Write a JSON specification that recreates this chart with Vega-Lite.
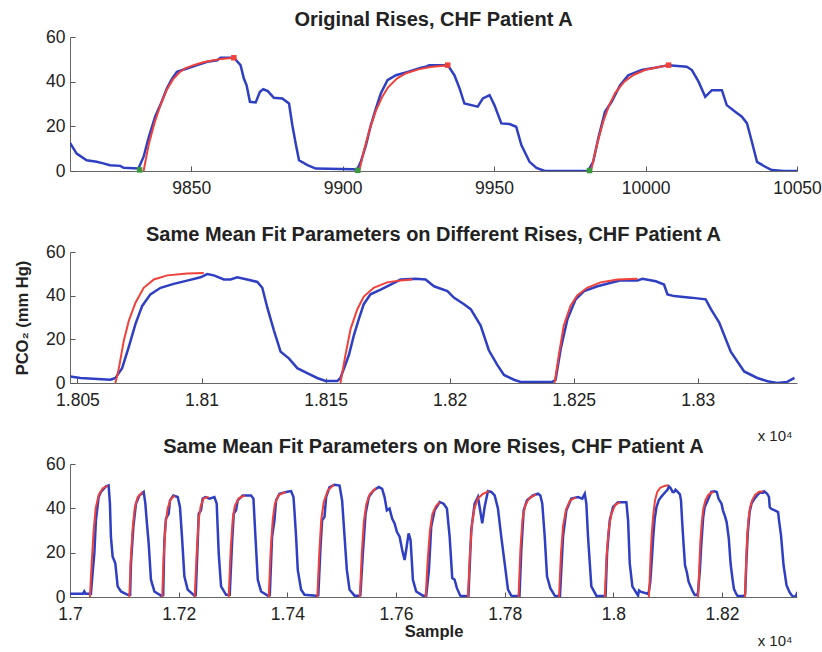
{
  "$schema": "https://vega.github.io/schema/vega-lite/v6.json",
  "background": "white",
  "padding": {"top": 10, "left": 14, "right": 0, "bottom": 0},
  "bounds": "flush",
  "spacing": 81,
  "datasets": {
    "signal": [
      {"s": 9810, "v": 12.6}, {"s": 9812.2, "v": 7.8}, {"s": 9815.5, "v": 4.8}, {"s": 9818.8, "v": 4.1}, {"s": 9821, "v": 3.4}, {"s": 9823.2, "v": 2.6}, {"s": 9826.6, "v": 2.3}, {"s": 9827.7, "v": 1.4}, {"s": 9832.6, "v": 1.1},
      {"s": 9834.3, "v": 6.4}, {"s": 9835.9, "v": 14.6}, {"s": 9838.1, "v": 24.3}, {"s": 9839.8, "v": 29.5}, {"s": 9842, "v": 37}, {"s": 9843.7, "v": 41.4}, {"s": 9845.3, "v": 44.4}, {"s": 9848.6, "v": 45.9}, {"s": 9852, "v": 47.4}, {"s": 9855.3, "v": 48.9}, {"s": 9858.6, "v": 49.6}, {"s": 9859.7, "v": 50.7}, {"s": 9864.1, "v": 50.7},
      {"s": 9866.3, "v": 47.4}, {"s": 9867.4, "v": 41.4}, {"s": 9868.3, "v": 38.4}, {"s": 9869.4, "v": 31}, {"s": 9871.3, "v": 30.7}, {"s": 9872.7, "v": 35.5}, {"s": 9873.8, "v": 36.6}, {"s": 9875.3, "v": 35.8}, {"s": 9877.3, "v": 32.8}, {"s": 9880.1, "v": 32.5}, {"s": 9882.3, "v": 30.2}, {"s": 9883.4, "v": 20.5}, {"s": 9884.5, "v": 12.3}, {"s": 9885.6, "v": 4.8}, {"s": 9888.4, "v": 2.6}, {"s": 9891.1, "v": 1.1}, {"s": 9903.7, "v": 0.8}, {"s": 9904.7, "v": 0.4},
      {"s": 9906, "v": 4.1}, {"s": 9907.7, "v": 11.6}, {"s": 9909.3, "v": 20.5}, {"s": 9911, "v": 28}, {"s": 9912.6, "v": 34.7}, {"s": 9914.8, "v": 40.7}, {"s": 9917.6, "v": 42.9}, {"s": 9921.5, "v": 44.4}, {"s": 9925.9, "v": 46.2}, {"s": 9927.5, "v": 46.7}, {"s": 9928.6, "v": 47.4}, {"s": 9934.7, "v": 47.4},
      {"s": 9936.9, "v": 42.9}, {"s": 9938.6, "v": 37}, {"s": 9940.2, "v": 30.2}, {"s": 9944.6, "v": 28.8}, {"s": 9946.3, "v": 32.5}, {"s": 9948.5, "v": 34}, {"s": 9950.1, "v": 29.5}, {"s": 9952.4, "v": 21.3}, {"s": 9955.1, "v": 21}, {"s": 9957.3, "v": 19.8}, {"s": 9959, "v": 11.6}, {"s": 9961.7, "v": 4.1}, {"s": 9964, "v": 1.4}, {"s": 9966.7, "v": 0}, {"s": 9981, "v": 0},
      {"s": 9982.7, "v": 4.1}, {"s": 9984.4, "v": 14.6}, {"s": 9986.6, "v": 26.5}, {"s": 9988.8, "v": 31}, {"s": 9991.6, "v": 38.4}, {"s": 9994.3, "v": 42.9}, {"s": 9998.7, "v": 45.2}, {"s": 10003.1, "v": 46.2}, {"s": 10007.6, "v": 47.4},
      {"s": 10013.6, "v": 46.7}, {"s": 10015.3, "v": 45.2}, {"s": 10017.5, "v": 40}, {"s": 10019.7, "v": 33.2}, {"s": 10021.9, "v": 36.2}, {"s": 10025.2, "v": 36.2}, {"s": 10026.8, "v": 29.5}, {"s": 10029.6, "v": 26.5}, {"s": 10031.8, "v": 24.3}, {"s": 10033.5, "v": 21.3}, {"s": 10035.1, "v": 13.1}, {"s": 10036.8, "v": 4.1}, {"s": 10039.5, "v": 1.9}, {"s": 10041.7, "v": 0.4}, {"s": 10045.6, "v": 0}, {"s": 10050, "v": 0},

      {"s": 17000, "v": 1.5}, {"s": 17014, "v": 1.5}, {"s": 17024, "v": 1.5}, {"s": 17026.3, "v": 2.5}, {"s": 17028.5, "v": 1.5}, {"s": 17035.6, "v": 1.5}, {"s": 17038.5, "v": 1.5},
      {"s": 17041.6, "v": 10.8}, {"s": 17044.8, "v": 19.7}, {"s": 17047.7, "v": 34.6}, {"s": 17052.7, "v": 45.1}, {"s": 17056.9, "v": 47.4}, {"s": 17066.1, "v": 49.9}, {"s": 17071.1, "v": 50.3}, {"s": 17073.5, "v": 42.1}, {"s": 17075.3, "v": 27.2}, {"s": 17078.5, "v": 18.2}, {"s": 17083.4, "v": 15.2}, {"s": 17087.7, "v": 4.8}, {"s": 17093.8, "v": 2.5}, {"s": 17106.1, "v": 1}, {"s": 17110.7, "v": 1},
      {"s": 17112.2, "v": 15.2}, {"s": 17116.6, "v": 31.7}, {"s": 17121.4, "v": 42.1}, {"s": 17127.7, "v": 45.8}, {"s": 17135.6, "v": 47.4}, {"s": 17138.7, "v": 42.1}, {"s": 17141.1, "v": 34.6}, {"s": 17144.8, "v": 24.2}, {"s": 17149, "v": 7.8}, {"s": 17155.3, "v": 2.5}, {"s": 17167.4, "v": 0.6}, {"s": 17171.5, "v": 0.8},
      {"s": 17173.7, "v": 25.7}, {"s": 17176.6, "v": 35.4}, {"s": 17181.6, "v": 37.6}, {"s": 17184, "v": 43.6}, {"s": 17190.3, "v": 45.8}, {"s": 17198.2, "v": 45.1}, {"s": 17202.4, "v": 40.6}, {"s": 17206.1, "v": 27.2}, {"s": 17210.5, "v": 9.3}, {"s": 17216.6, "v": 3.3}, {"s": 17229, "v": 0.6}, {"s": 17231.4, "v": 0.8},
      {"s": 17235, "v": 24.2}, {"s": 17236.9, "v": 37.6}, {"s": 17241.1, "v": 39.1}, {"s": 17244.2, "v": 44.4}, {"s": 17249.2, "v": 45.1}, {"s": 17256.6, "v": 44.4}, {"s": 17265.8, "v": 45.1}, {"s": 17270, "v": 42.1}, {"s": 17273.7, "v": 19.7}, {"s": 17278, "v": 4.8}, {"s": 17287.2, "v": 1}, {"s": 17294, "v": 1},
      {"s": 17298.2, "v": 24.2}, {"s": 17301.4, "v": 37.6}, {"s": 17305.6, "v": 39.1}, {"s": 17308.7, "v": 43.6}, {"s": 17317.9, "v": 45.8}, {"s": 17333.2, "v": 45.8}, {"s": 17337.6, "v": 44.4}, {"s": 17341.3, "v": 27.2}, {"s": 17345.6, "v": 7.8}, {"s": 17351.6, "v": 2.5}, {"s": 17364, "v": 0.6}, {"s": 17367.7, "v": 0.8},
      {"s": 17371.9, "v": 27.2}, {"s": 17376.3, "v": 34.6}, {"s": 17379.3, "v": 43.6}, {"s": 17385.5, "v": 46.6}, {"s": 17397.7, "v": 47.4}, {"s": 17406.9, "v": 47.8}, {"s": 17411.3, "v": 45.1}, {"s": 17413.2, "v": 38.4}, {"s": 17416.1, "v": 27.2}, {"s": 17419.2, "v": 12.2}, {"s": 17425.3, "v": 3.3}, {"s": 17431.6, "v": 1}, {"s": 17452.9, "v": 0.6}, {"s": 17457, "v": 0.8},
      {"s": 17461.1, "v": 22.7}, {"s": 17464, "v": 34.6}, {"s": 17468.4, "v": 36.2}, {"s": 17471.4, "v": 45.1}, {"s": 17477.6, "v": 49.6}, {"s": 17486.8, "v": 50.6}, {"s": 17496.1, "v": 50.3}, {"s": 17500.8, "v": 43.6}, {"s": 17505.3, "v": 27.2}, {"s": 17509.5, "v": 12.2}, {"s": 17514.5, "v": 3.3}, {"s": 17523.7, "v": 0.6}, {"s": 17531.6, "v": 0.6}, {"s": 17534.4, "v": 0.8},
      {"s": 17539, "v": 19.7}, {"s": 17544, "v": 37.6}, {"s": 17550, "v": 45.1}, {"s": 17558.7, "v": 48.1}, {"s": 17568.4, "v": 49.6}, {"s": 17574.5, "v": 48.8}, {"s": 17578.9, "v": 45.1}, {"s": 17583.2, "v": 39.1}, {"s": 17588.1, "v": 39.9}, {"s": 17592.9, "v": 35.4}, {"s": 17597.4, "v": 33.2}, {"s": 17601.6, "v": 29.4}, {"s": 17606.6, "v": 27.2}, {"s": 17611.4, "v": 21.2}, {"s": 17615.8, "v": 16.7}, {"s": 17618.7, "v": 21.2}, {"s": 17623.2, "v": 28.7}, {"s": 17626.8, "v": 25.7}, {"s": 17631.1, "v": 7.8}, {"s": 17637.1, "v": 2.5}, {"s": 17649.5, "v": 0.6}, {"s": 17655.6, "v": 0.6},
      {"s": 17660.6, "v": 12.2}, {"s": 17664.8, "v": 31.7}, {"s": 17671.1, "v": 39.1}, {"s": 17680.3, "v": 42.8}, {"s": 17687.6, "v": 42.1}, {"s": 17693.7, "v": 39.9}, {"s": 17698.7, "v": 27.2}, {"s": 17703.5, "v": 8.5}, {"s": 17707.9, "v": 7.8}, {"s": 17712.1, "v": 4}, {"s": 17718.2, "v": 0.6}, {"s": 17729.2, "v": 0.4}, {"s": 17733.3, "v": 0.5},
      {"s": 17738.5, "v": 30.2}, {"s": 17744.7, "v": 42.1}, {"s": 17750.8, "v": 45.1}, {"s": 17753.9, "v": 40.6}, {"s": 17758.7, "v": 33.2}, {"s": 17763.1, "v": 40.6}, {"s": 17769.2, "v": 47.8}, {"s": 17775.3, "v": 47.4}, {"s": 17781.6, "v": 45.8}, {"s": 17787.6, "v": 39.9}, {"s": 17793.7, "v": 27.2}, {"s": 17800, "v": 15.2}, {"s": 17806.1, "v": 3.3}, {"s": 17812.1, "v": 0.6}, {"s": 17824.5, "v": 0.4}, {"s": 17827.3, "v": 0.5},
      {"s": 17830.6, "v": 21.2}, {"s": 17835, "v": 39.1}, {"s": 17841.1, "v": 43.6}, {"s": 17852.1, "v": 45.8}, {"s": 17861.3, "v": 46.6}, {"s": 17865.6, "v": 45.8}, {"s": 17869.2, "v": 42.1}, {"s": 17873.7, "v": 27.2}, {"s": 17877.9, "v": 9.3}, {"s": 17884, "v": 4}, {"s": 17892.1, "v": 0.6}, {"s": 17898.2, "v": 0.4}, {"s": 17901.8, "v": 0.5},
      {"s": 17907.4, "v": 27.2}, {"s": 17913.5, "v": 39.1}, {"s": 17922.7, "v": 44.4}, {"s": 17935, "v": 45.1}, {"s": 17942.9, "v": 44.4}, {"s": 17947.4, "v": 46.6}, {"s": 17950.3, "v": 42.1}, {"s": 17953.4, "v": 27.2}, {"s": 17959.5, "v": 4.8}, {"s": 17968.7, "v": 0.6}, {"s": 17984.2, "v": 0.4}, {"s": 17985.7, "v": 0.5},
      {"s": 17988.4, "v": 19.7}, {"s": 17993.4, "v": 34.6}, {"s": 17999.5, "v": 40.6}, {"s": 18008.7, "v": 42.8}, {"s": 18024, "v": 42.8}, {"s": 18027.1, "v": 34.6}, {"s": 18030.2, "v": 15.2}, {"s": 18035, "v": 4.8}, {"s": 18045.5, "v": 0.6},

      {"s": 18047.2, "v": 3.0}, {"s": 18051.2, "v": 2.3}, {"s": 18063.3, "v": 1.5}, {"s": 18065.3, "v": 2.3}, {"s": 18068, "v": 6.8}, {"s": 18070.7, "v": 16.6}, {"s": 18073.4, "v": 27.1}, {"s": 18076.1, "v": 35.3}, {"s": 18079.4, "v": 40.6}, {"s": 18083.5, "v": 43.6}, {"s": 18088.8, "v": 45.4}, {"s": 18094.2, "v": 46.9}, {"s": 18099.6, "v": 48.4}, {"s": 18102.3, "v": 49.9}, {"s": 18105, "v": 49.3}, {"s": 18109, "v": 47.4}, {"s": 18111.7, "v": 47.4}, {"s": 18114.4, "v": 48.4}, {"s": 18118.4, "v": 47.4}, {"s": 18122.5, "v": 46.3}, {"s": 18124.5, "v": 43.6}, {"s": 18126.5, "v": 34.6}, {"s": 18129.2, "v": 24}, {"s": 18131.9, "v": 14.3}, {"s": 18135.2, "v": 11.3}, {"s": 18138.6, "v": 6.8}, {"s": 18142.6, "v": 4.5}, {"s": 18146.6, "v": 2.3}, {"s": 18150, "v": 0.9}, {"s": 18154.7, "v": 0.9},
      {"s": 18156, "v": 2.3}, {"s": 18159.4, "v": 12.8}, {"s": 18161.4, "v": 21.8}, {"s": 18163.4, "v": 29.3}, {"s": 18165.4, "v": 36.1}, {"s": 18168.1, "v": 40.6}, {"s": 18172.2, "v": 42.8}, {"s": 18176.2, "v": 45.1}, {"s": 18180.2, "v": 47.4}, {"s": 18186.3, "v": 47.7}, {"s": 18190.3, "v": 47.4}, {"s": 18193.7, "v": 44.3}, {"s": 18199.1, "v": 42.1}, {"s": 18201.7, "v": 39.1}, {"s": 18205.8, "v": 36.1}, {"s": 18208.5, "v": 33.8}, {"s": 18212.5, "v": 26.3}, {"s": 18215.8, "v": 15}, {"s": 18219.2, "v": 8.3}, {"s": 18221.9, "v": 3.7}, {"s": 18225.9, "v": 1.5}, {"s": 18228.6, "v": 0.5}, {"s": 18241.4, "v": 0.5},
      {"s": 18242.7, "v": 1.5}, {"s": 18244.8, "v": 15.8}, {"s": 18247.5, "v": 29.3}, {"s": 18250.8, "v": 38.3}, {"s": 18254.2, "v": 42.1}, {"s": 18259.6, "v": 44.3}, {"s": 18265, "v": 45.9}, {"s": 18269, "v": 47}, {"s": 18275.7, "v": 47}, {"s": 18277.7, "v": 47.7}, {"s": 18283.1, "v": 46.6}, {"s": 18286.4, "v": 45.1}, {"s": 18287.8, "v": 40.6}, {"s": 18290.5, "v": 39.8}, {"s": 18297.2, "v": 39.1}, {"s": 18303.2, "v": 38.3}, {"s": 18305.3, "v": 33.8}, {"s": 18308.6, "v": 27.8}, {"s": 18313.3, "v": 14.3}, {"s": 18318.7, "v": 5.3}, {"s": 18324, "v": 2.3}, {"s": 18328.1, "v": 0.8}, {"s": 18332, "v": 0}, {"s": 18336, "v": 0.5}, {"s": 18339, "v": 2.3}
    ],
    "fit": [
      {"r": "a1", "s": 9834.3, "v": 0}, {"r": "a1", "s": 9836, "v": 12}, {"r": "a1", "s": 9838, "v": 22}, {"r": "a1", "s": 9840, "v": 30}, {"r": "a1", "s": 9842, "v": 36.5}, {"r": "a1", "s": 9844, "v": 41}, {"r": "a1", "s": 9846, "v": 44}, {"r": "a1", "s": 9848, "v": 46}, {"r": "a1", "s": 9851, "v": 47.5}, {"r": "a1", "s": 9854, "v": 48.7}, {"r": "a1", "s": 9857, "v": 49.5}, {"r": "a1", "s": 9860, "v": 50.2}, {"r": "a1", "s": 9864.1, "v": 50.7},
      {"r": "a2", "s": 9905.5, "v": 0}, {"r": "a2", "s": 9907, "v": 9}, {"r": "a2", "s": 9909, "v": 19}, {"r": "a2", "s": 9911, "v": 27}, {"r": "a2", "s": 9913, "v": 33}, {"r": "a2", "s": 9915, "v": 37.5}, {"r": "a2", "s": 9918, "v": 41.5}, {"r": "a2", "s": 9921, "v": 43.8}, {"r": "a2", "s": 9925, "v": 45.5}, {"r": "a2", "s": 9929, "v": 46.6}, {"r": "a2", "s": 9934.7, "v": 47.4},
      {"r": "a3", "s": 9982, "v": 0}, {"r": "a3", "s": 9984, "v": 12}, {"r": "a3", "s": 9986, "v": 22}, {"r": "a3", "s": 9988, "v": 29.5}, {"r": "a3", "s": 9990, "v": 35}, {"r": "a3", "s": 9993, "v": 40}, {"r": "a3", "s": 9996, "v": 43}, {"r": "a3", "s": 10000, "v": 45.3}, {"r": "a3", "s": 10004, "v": 46.5}, {"r": "a3", "s": 10007.6, "v": 47.4},
      {"r": "c1", "s": 17036.7, "v": 0}, {"r": "c1", "s": 17039.8, "v": 15}, {"r": "c1", "s": 17043.5, "v": 30}, {"r": "c1", "s": 17047.2, "v": 40}, {"r": "c1", "s": 17052.7, "v": 46}, {"r": "c1", "s": 17060, "v": 49}, {"r": "c1", "s": 17069.2, "v": 50.3},
      {"r": "c2", "s": 17109.2, "v": 0}, {"r": "c2", "s": 17111.6, "v": 16}, {"r": "c2", "s": 17115.3, "v": 31}, {"r": "c2", "s": 17119, "v": 40}, {"r": "c2", "s": 17124.5, "v": 45}, {"r": "c2", "s": 17133.7, "v": 47.4},
      {"r": "c3", "s": 17169.6, "v": 0}, {"r": "c3", "s": 17172.4, "v": 18}, {"r": "c3", "s": 17176, "v": 33}, {"r": "c3", "s": 17179.7, "v": 40}, {"r": "c3", "s": 17185.2, "v": 44}, {"r": "c3", "s": 17192.6, "v": 45.8},
      {"r": "c4", "s": 17229.5, "v": 0}, {"r": "c4", "s": 17233.2, "v": 20}, {"r": "c4", "s": 17236.9, "v": 35}, {"r": "c4", "s": 17240.6, "v": 41}, {"r": "c4", "s": 17246.1, "v": 44.5}, {"r": "c4", "s": 17255.3, "v": 45.1},
      {"r": "c5", "s": 17292.1, "v": 0}, {"r": "c5", "s": 17295.8, "v": 22}, {"r": "c5", "s": 17299.5, "v": 35}, {"r": "c5", "s": 17303.2, "v": 41}, {"r": "c5", "s": 17310.5, "v": 44.5}, {"r": "c5", "s": 17321.6, "v": 45.8},
      {"r": "c6", "s": 17365.8, "v": 0}, {"r": "c6", "s": 17369.5, "v": 22}, {"r": "c6", "s": 17373.2, "v": 35}, {"r": "c6", "s": 17376.9, "v": 42}, {"r": "c6", "s": 17384.2, "v": 46}, {"r": "c6", "s": 17397.1, "v": 47.4},
      {"r": "c7", "s": 17455.2, "v": 0}, {"r": "c7", "s": 17458.8, "v": 20}, {"r": "c7", "s": 17462.5, "v": 35}, {"r": "c7", "s": 17467.1, "v": 43}, {"r": "c7", "s": 17474.5, "v": 48}, {"r": "c7", "s": 17485.5, "v": 50.6},
      {"r": "c8", "s": 17533.4, "v": 0}, {"r": "c8", "s": 17537.1, "v": 20}, {"r": "c8", "s": 17540.8, "v": 34}, {"r": "c8", "s": 17545.4, "v": 42}, {"r": "c8", "s": 17551.9, "v": 46.5}, {"r": "c8", "s": 17562.9, "v": 49.2},
      {"r": "c9", "s": 17654.5, "v": 0}, {"r": "c9", "s": 17658.7, "v": 18}, {"r": "c9", "s": 17662.4, "v": 30}, {"r": "c9", "s": 17667, "v": 37.5}, {"r": "c9", "s": 17673.5, "v": 41}, {"r": "c9", "s": 17680.3, "v": 42.8},
      {"r": "c10", "s": 17732.4, "v": 0}, {"r": "c10", "s": 17736.1, "v": 20}, {"r": "c10", "s": 17739.8, "v": 33}, {"r": "c10", "s": 17744.4, "v": 40}, {"r": "c10", "s": 17750.8, "v": 44.5}, {"r": "c10", "s": 17760, "v": 46.5}, {"r": "c10", "s": 17771.1, "v": 47.8},
      {"r": "c11", "s": 17825.4, "v": 0}, {"r": "c11", "s": 17829.1, "v": 22}, {"r": "c11", "s": 17832.8, "v": 35}, {"r": "c11", "s": 17837.4, "v": 41}, {"r": "c11", "s": 17844.8, "v": 44.5}, {"r": "c11", "s": 17857.6, "v": 46.3},
      {"r": "c12", "s": 17900, "v": 0}, {"r": "c12", "s": 17903.7, "v": 20}, {"r": "c12", "s": 17907.4, "v": 32}, {"r": "c12", "s": 17912.9, "v": 39.5}, {"r": "c12", "s": 17920.3, "v": 43.5}, {"r": "c12", "s": 17931.3, "v": 45},
      {"r": "c13", "s": 17984.2, "v": 0}, {"r": "c13", "s": 17987.5, "v": 18}, {"r": "c13", "s": 17991.2, "v": 30}, {"r": "c13", "s": 17995.8, "v": 37}, {"r": "c13", "s": 18003.2, "v": 41.5}, {"r": "c13", "s": 18012.4, "v": 42.8},
      {"r": "c14", "s": 18065.3, "v": 0}, {"r": "c14", "s": 18066.7, "v": 6.8}, {"r": "c14", "s": 18068.7, "v": 19.5}, {"r": "c14", "s": 18070.7, "v": 28.5}, {"r": "c14", "s": 18073.4, "v": 36.8}, {"r": "c14", "s": 18076.7, "v": 43.6}, {"r": "c14", "s": 18080.8, "v": 47.4}, {"r": "c14", "s": 18086.2, "v": 49.3}, {"r": "c14", "s": 18094.2, "v": 50.1}, {"r": "c14", "s": 18100.9, "v": 50.4},
      {"r": "c15", "s": 18156, "v": 0}, {"r": "c15", "s": 18158, "v": 12.8}, {"r": "c15", "s": 18160.1, "v": 24.8}, {"r": "c15", "s": 18162.8, "v": 33.8}, {"r": "c15", "s": 18165.4, "v": 39.6}, {"r": "c15", "s": 18169.4, "v": 43.6}, {"r": "c15", "s": 18174.8, "v": 46.1}, {"r": "c15", "s": 18180.2, "v": 47}, {"r": "c15", "s": 18185, "v": 47.4},
      {"r": "c16", "s": 18242.3, "v": 0}, {"r": "c16", "s": 18244, "v": 12.8}, {"r": "c16", "s": 18246, "v": 26.3}, {"r": "c16", "s": 18248.7, "v": 35.3}, {"r": "c16", "s": 18251.4, "v": 40.1}, {"r": "c16", "s": 18255.4, "v": 43.6}, {"r": "c16", "s": 18260.8, "v": 46.1}, {"r": "c16", "s": 18267.6, "v": 47.4}, {"r": "c16", "s": 18275.7, "v": 47.7}
    ],
    "ends": [
      {"kind": "start", "s": 9833, "v": 0.5}, {"kind": "start", "s": 9905, "v": 0.3}, {"kind": "start", "s": 9981.5, "v": 0.2},
      {"kind": "end", "s": 9864.1, "v": 50.7}, {"kind": "end", "s": 9934.7, "v": 47.4}, {"kind": "end", "s": 10007.6, "v": 47.4}
    ]
  },
  "vconcat": [
    {
      "width": 727,
      "height": 134,
      "title": "Original Rises, CHF Patient A",
      "layer": [
        {
          "data": {"name": "signal"},
          "transform": [{"filter": "datum.s <= 10050"}],
          "mark": {"type": "line", "color": "#2f3fc2", "strokeWidth": 2.5, "clip": true},
          "encoding": {
            "x": {"field": "s", "type": "quantitative", "scale": {"domain": [9810, 10050], "nice": false, "zero": false},
                  "axis": {"values": [9850, 9900, 9950, 10000, 10050], "format": "d", "title": null}},
            "y": {"field": "v", "type": "quantitative", "scale": {"domain": [0, 60], "nice": false},
                  "axis": {"values": [0, 20, 40, 60], "title": null}}
          }
        },
        {
          "data": {"name": "fit"},
          "transform": [{"filter": "datum.s <= 10050"}],
          "mark": {"type": "line", "color": "#f0403a", "strokeWidth": 2, "clip": true},
          "encoding": {
            "x": {"field": "s", "type": "quantitative"},
            "y": {"field": "v", "type": "quantitative"},
            "detail": {"field": "r"}
          }
        },
        {
          "data": {"name": "ends"},
          "mark": {"type": "square", "filled": true, "size": 30, "opacity": 1},
          "encoding": {
            "x": {"field": "s", "type": "quantitative"},
            "y": {"field": "v", "type": "quantitative"},
            "color": {"field": "kind", "type": "nominal", "scale": {"domain": ["start", "end"], "range": ["#3a9a3a", "#f0403a"]}, "legend": null}
          }
        }
      ]
    },
    {
      "width": 727,
      "height": 131,
      "title": "Same Mean Fit Parameters on Different Rises, CHF Patient A",
      "layer": [
        {
          "data": {"name": "signal"},
          "transform": [{"filter": "datum.s >= 18047"}],
          "mark": {"type": "line", "color": "#2f3fc2", "strokeWidth": 2.5, "clip": true},
          "encoding": {
            "x": {"field": "s", "type": "quantitative", "scale": {"domain": [18047, 18340], "nice": false, "zero": false},
                  "axis": {"values": [18050, 18100, 18150, 18200, 18250, 18300], "labelExpr": "format(datum.value / 10000, '.4~f')",
                           "title": "x 10⁴", "titleFontWeight": "normal", "titleFontSize": 15, "titleX": 722, "titleY": 52, "titleAlign": "right", "titleBaseline": "middle"}},
            "y": {"field": "v", "type": "quantitative", "scale": {"domain": [0, 60], "nice": false},
                  "axis": {"values": [0, 20, 40, 60], "title": "PCO₂ (mm Hg)", "titlePadding": 15}}
          }
        },
        {
          "data": {"name": "fit"},
          "transform": [{"filter": "datum.s >= 18047"}],
          "mark": {"type": "line", "color": "#f0403a", "strokeWidth": 2, "clip": true},
          "encoding": {
            "x": {"field": "s", "type": "quantitative"},
            "y": {"field": "v", "type": "quantitative"},
            "detail": {"field": "r"}
          }
        }
      ]
    },
    {
      "width": 727,
      "height": 133,
      "title": "Same Mean Fit Parameters on More Rises, CHF Patient A",
      "resolve": {"axis": {"x": "independent"}},
      "layer": [
        {
          "data": {"name": "signal"},
          "transform": [{"filter": "datum.s >= 17000"}],
          "mark": {"type": "line", "color": "#2f3fc2", "strokeWidth": 2.5, "clip": true},
          "encoding": {
            "x": {"field": "s", "type": "quantitative", "scale": {"domain": [17000, 18338], "nice": false, "zero": false},
                  "axis": {"values": [17000, 17200, 17400, 17600, 17800, 18000, 18200], "labelExpr": "format(datum.value / 10000, '.4~f')",
                           "title": "Sample", "titleY": 34, "titleBaseline": "middle"}},
            "y": {"field": "v", "type": "quantitative", "scale": {"domain": [0, 60], "nice": false},
                  "axis": {"values": [0, 20, 40, 60], "title": null}}
          }
        },
        {
          "data": {"name": "fit"},
          "transform": [{"filter": "datum.s >= 17000"}],
          "mark": {"type": "line", "color": "#f0403a", "strokeWidth": 2, "clip": true},
          "encoding": {
            "x": {"field": "s", "type": "quantitative",
                  "axis": {"orient": "bottom", "labels": false, "ticks": false, "domain": false, "grid": false,
                           "title": "x 10⁴", "titleFontWeight": "normal", "titleFontSize": 15, "titleX": 722, "titleY": 43, "titleAlign": "right", "titleBaseline": "middle"}},
            "y": {"field": "v", "type": "quantitative"},
            "detail": {"field": "r"}
          }
        }
      ]
    }
  ],
  "config": {
    "view": {"stroke": null},
    "font": "Liberation Sans",
    "title": {"font": "Liberation Sans", "fontSize": 20, "fontWeight": "bold", "color": "#222222", "offset": -2},
    "axis": {
      "grid": false,
      "domainColor": "#666666",
      "domainWidth": 1,
      "tickColor": "#555555",
      "tickSize": -5,
      "labelFont": "Liberation Sans",
      "labelFontSize": 17.5,
      "labelColor": "#222222",
      "labelFlush": false,
      "labelOverlap": false,
      "titleFont": "Liberation Sans",
      "titleFontSize": 16.5,
      "titleFontWeight": "bold",
      "titleColor": "#222222"
    },
    "axisX": {"labelPadding": 13},
    "axisY": {"labelPadding": 10}
  }
}
